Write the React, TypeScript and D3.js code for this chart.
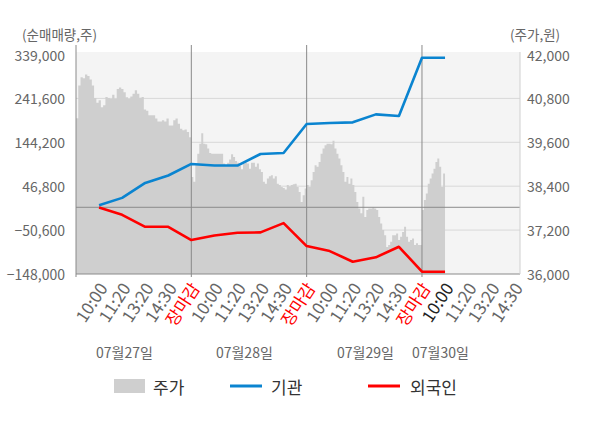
import * as d3 from "d3";

const dayLabels = ["07월27일", "07월28일", "07월29일", "07월30일"];
const dayLabelSlot = [2.1, 7.3, 12.55, 15.8];
const timeLabels = ["10:00", "11:20", "13:20", "14:30", "장마감"];
const slotsPerDay = 5;
const lastDaySlots = 4; // labels shown for the current day
const currentSlot = 16; // "10:00" of 07월30일

const leftTicks = [-148000, -50600, 46800, 144200, 241600, 339000];
const rightTicks = [36000, 37200, 38400, 39600, 40800, 42000];

// cumulative net buying, one value per slot (10:00 of day 1 .. 10:00 of day 4)
const institution = [4700, 20900, 54100, 70500, 96200, 92600, 92600, 118300, 120500, 184700, 187000, 188500, 206200, 202500, 331700, 331700];
const foreign = [-600, -16700, -43300, -43300, -72700, -62400, -56500, -55700, -35100, -86000, -97100, -120800, -111000, -87600, -142900, -142900];

// price through each session
const priceDay1 = [40260, 41150, 41380, 41350, 41450, 41410, 41320, 41150, 40810, 40680, 40750, 40560, 40610, 40840, 40810, 40790, 40900, 40790, 41060, 41100, 41060, 40970, 40830, 40790, 40850, 40930, 41020, 40930, 40820, 40840, 40500, 40460, 40340, 40340, 40340, 40250, 40170, 40170, 40200, 40170, 40250, 40060, 40060, 40200, 40250, 40110, 39970, 39930, 39950, 39880, 39740, 39770];
const priceDay2 = [38650, 38520, 39020, 39290, 39560, 39850, 39560, 39550, 39430, 39310, 39290, 39290, 39290, 39290, 39290, 39290, 39020, 38970, 39040, 39130, 39270, 39200, 39090, 39040, 38950, 38860, 39020, 39040, 39020, 38880, 39040, 39040, 38930, 39020, 38860, 38790, 38520, 38470, 38610, 38670, 38700, 38610, 38670, 38470, 38430, 38380, 38350, 38310, 38430, 38400, 38430, 38450, 38470, 38380, 38240, 37970, 38150, 38340, 38450];
const priceDay3 = [38430, 38380, 38560, 38790, 38970, 38930, 39060, 39290, 39430, 39520, 39560, 39560, 39550, 39640, 39430, 39290, 39160, 38970, 38790, 38520, 38650, 38470, 38610, 38430, 38240, 37970, 37790, 37660, 38110, 37560, 37750, 37790, 37790, 37820, 37790, 37750, 37560, 37380, 37200, 37060, 36740, 36790, 36880, 37060, 37060, 37110, 36930, 37020, 37150, 37290, 37020, 36880, 36930, 36970, 36790, 36840, 36790, 36790, 36880];
const priceDay4 = [37750, 38020, 38200, 38470, 38610, 38750, 38880, 39060, 39160, 38930, 38380, 38750, 38860];
const priceDays = [priceDay1, priceDay2, priceDay3, priceDay4];

const W = 600;
const H = 428;
const left = 76;
const right = 520;
const top = 54.5;
const bottom = 274;
const font = "'Noto Sans CJK KR', 'Noto Sans', sans-serif";

export default function App() {
  const x = d3.scaleLinear().domain([0, 19.25]).range([left, right]);
  const yL = d3.scaleLinear().domain([-148000, 339000]).range([bottom, top]);
  const yR = d3.scaleLinear().domain([36000, 42000]).range([bottom, top]);

  const pricePts: { s: number; p: number }[] = [];
  priceDays.forEach((arr, d) => {
    const span = d === priceDays.length - 1 ? currentSlot - d * slotsPerDay : slotsPerDay;
    arr.forEach((p, i) => {
      pricePts.push({ s: d * slotsPerDay + (span * i) / (arr.length - 1), p });
    });
  });

  const area = d3
    .area<{ s: number; p: number }>()
    .x((d) => x(d.s))
    .y0(yR(36000))
    .y1((d) => yR(d.p))
    .curve(d3.curveStepAfter);

  const line = d3
    .line<number>()
    .x((_, i) => x(i + 1))
    .y((d) => yL(d));

  const xTicks: { slot: number; label: string }[] = [];
  dayLabels.forEach((_, d) => {
    const n = d === dayLabels.length - 1 ? lastDaySlots : slotsPerDay;
    for (let j = 0; j < n; j++) {
      xTicks.push({ slot: d * slotsPerDay + j + 1, label: timeLabels[j] });
    }
  });

  const separators = [1, 2, 3].map((d) => d * slotsPerDay);

  return (
    <div style={{ position: "fixed", left: 0, top: 0 }}>
      <svg width={W} height={H} style={{ display: "block", fontFamily: font }}>
        <rect x={0} y={0} width={W} height={H} fill="#fff" />
        <rect x={left} y={52} width={right - left} height={bottom - 52} fill="#f4f4f4" />

        {/* grid */}
        {leftTicks.slice(1, -1).map((t) => (
          <line key={t} x1={left} x2={right} y1={yL(t)} y2={yL(t)} stroke="#d8d8d8" strokeWidth={1} />
        ))}

        <path d={area(pricePts) ?? ""} fill="#cfcfcf" />

        <line x1={left} x2={right} y1={yL(0)} y2={yL(0)} stroke="#8a8a8a" strokeWidth={1} />
        {separators.map((s) => (
          <line key={s} x1={x(s)} x2={x(s)} y1={45} y2={277} stroke="#8a8a8a" strokeWidth={1} />
        ))}

        {/* axes frame */}
        <line x1={left} x2={left} y1={45} y2={277} stroke="#8a8a8a" strokeWidth={1} />
        <line x1={left} x2={right} y1={bottom} y2={bottom} stroke="#8a8a8a" strokeWidth={1} />
        <line x1={right} x2={right} y1={52} y2={bottom} stroke="#d0d0d0" strokeWidth={1} />

        <path d={line(institution) ?? ""} fill="none" stroke="#0a84d0" strokeWidth={2.6} strokeLinejoin="round" />
        <path d={line(foreign) ?? ""} fill="none" stroke="#ff0000" strokeWidth={2.6} strokeLinejoin="round" />

        {/* left axis */}
        <text x={22} y={34} fontSize={13.5} fill="#666" dominantBaseline="central">(순매매량,주)</text>
        {leftTicks.map((t) => (
          <text key={t} x={65} y={yL(t)} fontSize={14} fill="#666" textAnchor="end" dominantBaseline="central">
            {d3.format(",")(t)}
          </text>
        ))}

        {/* right axis */}
        <text x={510} y={34} fontSize={13.5} fill="#666" dominantBaseline="central">(주가,원)</text>
        {rightTicks.map((t) => (
          <text key={t} x={527} y={yR(t)} fontSize={14} fill="#666" dominantBaseline="central">
            {d3.format(",")(t)}
          </text>
        ))}

        {/* x labels */}
        {xTicks.map((t) => (
          <text
            key={t.slot}
            transform={`translate(${x(t.slot) + 3},${284}) rotate(-57)`}
            fontSize={17}
            textAnchor="end"
            dominantBaseline="central"
            fill={t.label === "장마감" ? "#ff0000" : t.slot === currentSlot ? "#222" : "#666"}
          >
            {t.label}
          </text>
        ))}
        {dayLabels.map((d, i) => (
          <text key={d} x={x(dayLabelSlot[i])} y={352} fontSize={14} fill="#666" textAnchor="middle" dominantBaseline="central">
            {d}
          </text>
        ))}

        {/* legend */}
        <rect x={114} y={379} width={31} height={14} fill="#cfcfcf" />
        <text x={153} y={386} fontSize={17} fill="#333" dominantBaseline="central">주가</text>
        <line x1={230} x2={262} y1={386} y2={386} stroke="#0a84d0" strokeWidth={3} />
        <text x={271} y={386} fontSize={17} fill="#333" dominantBaseline="central">기관</text>
        <line x1={368} x2={400} y1={386} y2={386} stroke="#ff0000" strokeWidth={3} />
        <text x={410} y={386} fontSize={17} fill="#333" dominantBaseline="central">외국인</text>
      </svg>
    </div>
  );
}
